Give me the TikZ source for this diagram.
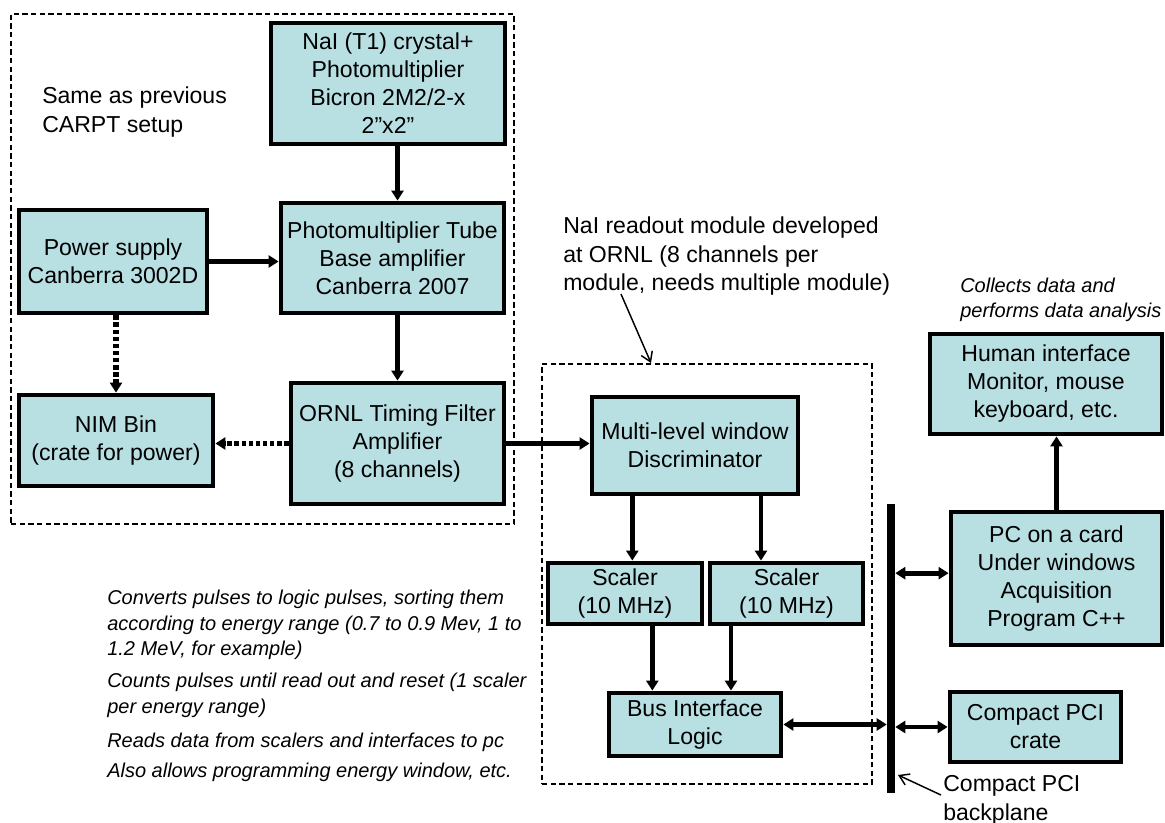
\documentclass[tikz,border=0pt]{standalone}
\usepackage{fontspec}
\setmainfont{Liberation Sans}
\usetikzlibrary{arrows.meta}
\definecolor{boxfill}{RGB}{184,223,226}

\begin{document}
\begin{tikzpicture}[x=0.75pt,y=-0.75pt,
  >={Triangle[length=7.5pt,width=9pt]},
  blk/.style={draw,line width=3.6pt,fill=boxfill,align=center,inner sep=0pt,
    font=\fontsize{17.3}{21}\selectfont},
  group/.style={draw,line width=1.1pt,dash pattern=on 4pt off 2.5pt,inner sep=0pt},
  flow/.style={->,line width=3.6pt},
  feed/.style={->,line width=3.8pt,dash pattern=on 3.5pt off 1.8pt},
  link/.style={<->,line width=3.6pt},
  note/.style={align=left,inner sep=0pt,anchor=north west,
    font=\fontsize{17.3}{21.5}\selectfont},
  remark/.style={align=left,inner sep=0pt,anchor=north west,
    font=\fontsize{15}{19.3}\selectfont\itshape},
  pointer/.style={-{Straight Barb[length=7pt,width=9pt]},line width=1.1pt}]

  \useasboundingbox (0,0) rectangle (1165,822);

  % old CARPT part
  \node[group,minimum width=377.25pt,minimum height=382.5pt] (setup) at (262.5,269) {};
  \node[note] (same) at (42,86.5) {Same as previous\\CARPT setup};

  \node[blk,minimum width=175.5pt,minimum height=90.75pt] (crystal) at (388,83.5)
    {NaI (T1) crystal+\\Photomultiplier\\Bicron 2M2/2-x\\2”x2”};
  \node[blk,minimum width=167.25pt,minimum height=82.5pt] (pmt) at (392.5,258)
    {Photomultiplier Tube\\Base amplifier\\Canberra 2007};
  \node[blk,minimum width=141pt,minimum height=77.25pt] (power) at (113,261.5)
    {Power supply\\Canberra 3002D};
  \node[blk,minimum width=145.5pt,minimum height=68.25pt] (nim) at (116,440.5)
    {NIM Bin\\(crate for power)};
  \node[blk,minimum width=159.75pt,minimum height=90.75pt] (tfa) at (397.5,443.5)
    {ORNL Timing Filter\\Amplifier\\(8 channels)};

  \draw[flow] (crystal.south -| tfa.north) -- (pmt.north -| tfa.north);
  \draw[flow] (pmt.south -| tfa.north) -- (tfa.north);
  \draw[flow] (power.east) -- (power.east -| pmt.west);
  \draw[feed] (power.south -| nim.north) -- (nim.north);
  \draw[feed] (tfa.west) -- (tfa.west -| nim.east);

  % ORNL readout module
  \node[group,minimum width=247.5pt,minimum height=315pt] (module) at (707,574) {};
  \node[note] (readout) at (563,216.5)
    {NaI readout module developed\\at ORNL (8 channels per\\module, needs multiple module)};
  \coordinate (readfrom) at (621,294);
  \coordinate (readto) at (651,363);
  \draw[pointer] (readfrom) -- (readto);

  \node[blk,minimum width=154.5pt,minimum height=72.75pt] (disc) at (695,445.5)
    {Multi-level window\\Discriminator};
  \node[blk,minimum width=115.5pt,minimum height=45.75pt] (scalerA) at (625,593.5)
    {Scaler\\(10 MHz)};
  \node[blk,minimum width=114.75pt,minimum height=45.75pt] (scalerB) at (786.5,593.5)
    {Scaler\\(10 MHz)};
  \node[blk,minimum width=129pt,minimum height=47.25pt] (bif) at (695,724.5)
    {Bus Interface\\Logic};

  \draw[flow] (tfa.east) -- (tfa.east -| disc.west);
  \draw[flow] ([xshift=-47pt]disc.south) -- ([xshift=-47pt]disc.south |- scalerA.north);
  \draw[flow] ([xshift=49.5pt]disc.south) -- ([xshift=49.5pt]disc.south |- scalerB.north);
  \draw[flow] ([xshift=-32pt]bif.north |- scalerA.south) -- ([xshift=-32pt]bif.north);
  \draw[flow] ([xshift=27pt]bif.north |- scalerB.south) -- ([xshift=27pt]bif.north);

  % PC side
  \node[remark] (collects) at (960,277.5) {Collects data and\\performs data analysis};
  \node[blk,minimum width=174pt,minimum height=75pt] (human) at (1046,384)
    {Human interface\\Monitor, mouse\\keyboard, etc.};
  \node[blk,minimum width=158.25pt,minimum height=99.75pt] (pc) at (1056.5,578.5)
    {PC on a card\\Under windows\\Acquisition\\Program C++};
  \node[blk,minimum width=128.25pt,minimum height=52.5pt] (crate) at (1035.5,727)
    {Compact PCI\\crate};
  \draw[flow] (pc.north) -- (pc.north |- human.south);

  \node[fill=black,inner sep=0pt,minimum width=6pt,minimum height=216.75pt] (bus) at (891,648.5) {};
  \draw[link] (bif.east) -- (bif.east -| bus.west);
  \draw[link] ([yshift=4pt]pc.west -| bus.east) -- ([yshift=4pt]pc.west);
  \draw[link] (crate.west -| bus.east) -- (crate.west);

  \node[note] (backplane) at (943,775) {Compact PCI\\backplane};
  \coordinate (backfrom) at (941,795);
  \coordinate (backto) at (898,775);
  \draw[pointer] (backfrom) -- (backto);

  % remarks on the left
  \node[remark] (conv) at (107,589.5)
    {Converts pulses to logic pulses, sorting them\\according to energy range (0.7 to 0.9 Mev, 1 to\\1.2 MeV, for example)};
  \node[remark] (counts) at (107,672.5)
    {Counts pulses until read out and reset (1 scaler\\per energy range)};
  \node[remark] (reads) at (107,732.5) {Reads data from scalers and interfaces to pc};
  \node[remark] (allows) at (107,762.5) {Also allows programming energy window, etc.};
\end{tikzpicture}
\end{document}
